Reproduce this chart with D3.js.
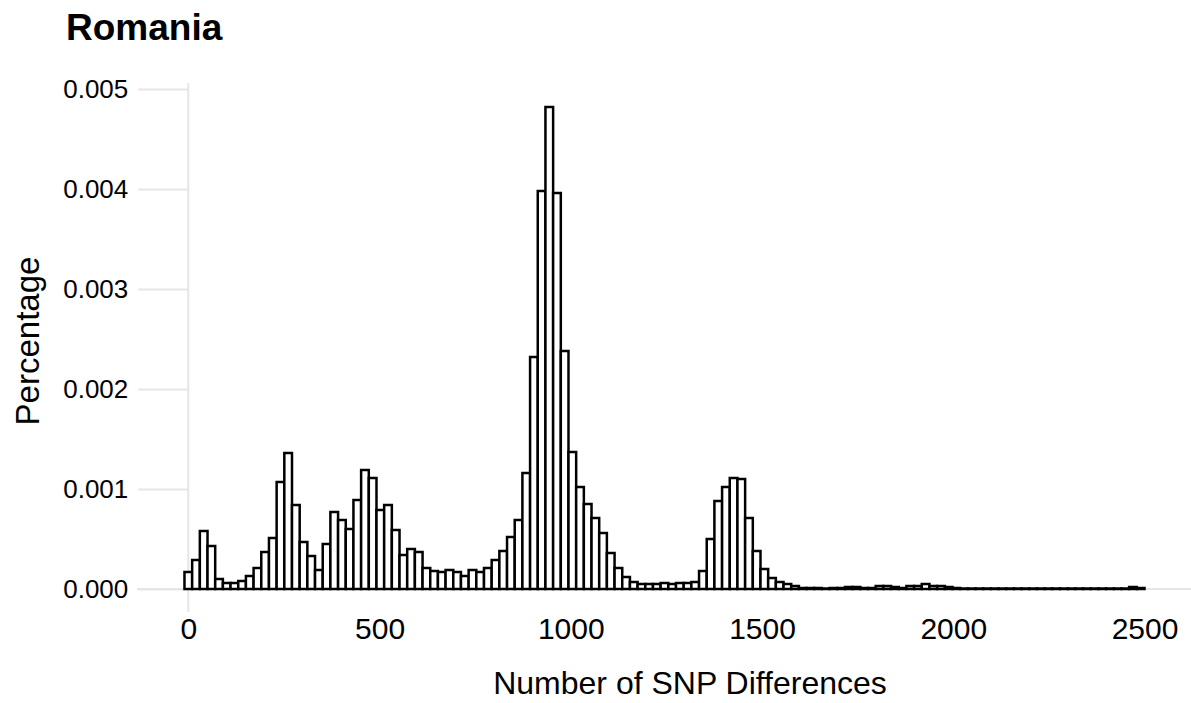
<!DOCTYPE html>
<html>
<head>
<meta charset="utf-8">
<script src="https://d3js.org/d3.v7.min.js"></script>
<style>
  html, body { margin: 0; padding: 0; background: #fff; }
  svg { display: block; font-family: "Liberation Sans", Arial, Helvetica, sans-serif; }
</style>
</head>
<body>
<svg id="chart" width="1191" height="703"></svg>
<script>
// ---- data ----
const title = "Romania";
const xLabel = "Number of SNP Differences";
const yLabel = "Percentage";
const binStart = -10;      // left edge of first bin
const binSize = 20.08;     // width of each bin
const values = [
  0.00017, 0.00029, 0.00058, 0.00043, 0.00010, 0.00006, 0.00006, 0.00008, 0.00013, 0.00021,
  0.00037, 0.00051, 0.00107, 0.00136, 0.00084, 0.00047, 0.00033, 0.00019, 0.00045, 0.00077,
  0.00069, 0.00060, 0.00089, 0.00119, 0.00111, 0.00079, 0.00084, 0.00059, 0.00034, 0.00040,
  0.00037, 0.00021, 0.00018, 0.00017, 0.00019, 0.00017, 0.00013, 0.00019, 0.00017, 0.00021,
  0.00029, 0.00038, 0.00052, 0.00069, 0.00116, 0.00232, 0.00398, 0.00482, 0.00396, 0.00238,
  0.00137, 0.00102, 0.00085, 0.00071, 0.00056, 0.00036, 0.00021, 0.00012, 0.00007, 0.00005,
  0.00005, 0.00005, 0.00006, 0.00005, 0.00006, 0.00006, 0.00007, 0.00018, 0.00050, 0.00088,
  0.00102, 0.00111, 0.00110, 0.00071, 0.00038, 0.00020, 0.00011, 0.00007, 0.00005, 0.00003,
  0.00001, 0.00001, 0.00001, 0.000005, 0.00001, 0.00001, 0.00002, 0.00002, 0.00001, 0.00001,
  0.00003, 0.00003, 0.00002, 0.00001, 0.00003, 0.00003, 0.00005, 0.00003, 0.00003, 0.00002,
  0.00001, 0.000005, 0.000005, 0.000005, 0.000005, 0.000005, 0.000005, 0.000005, 0.000005, 0.000005,
  0.000005, 0.000005, 0.000005, 0.000005, 0.000005, 0.000005, 0.000005, 0.000005, 0.000005, 0.000005,
  0.000005, 0.000005, 0.000005, 0.00002, 0.00001
];
const xTicks = [0, 500, 1000, 1500, 2000, 2500];
const yTicks = [0, 0.001, 0.002, 0.003, 0.004, 0.005];

// ---- layout ----
const svg = d3.select("#chart");
const x = d3.scaleLinear().domain([0, 2500]).range([188.3, 1144.5]);
const y = d3.scaleLinear().domain([0, 0.005]).range([589, 89]);
const grey = "#e6e6e6";

// axis lines
svg.append("line").attr("x1", 137).attr("x2", 1191).attr("y1", y(0)).attr("y2", y(0))
  .attr("stroke", grey).attr("stroke-width", 2);
svg.append("line").attr("x1", x(0)).attr("x2", x(0)).attr("y1", 83).attr("y2", 612)
  .attr("stroke", grey).attr("stroke-width", 2);

// y ticks
const yAxis = svg.append("g").attr("transform", `translate(${x(0)},0)`)
  .call(d3.axisLeft(y).tickValues(yTicks).tickFormat(d3.format(".3f")).tickSize(50).tickPadding(10));
yAxis.select(".domain").remove();
yAxis.selectAll(".tick line").attr("stroke", grey).attr("stroke-width", 2);
yAxis.selectAll(".tick text").attr("font-size", 26).attr("fill", "#000")
  .attr("font-family", "'Liberation Sans', Arial, sans-serif");

// x ticks
const xAxis = svg.append("g").attr("transform", `translate(0,${y(0)})`)
  .call(d3.axisBottom(x).tickValues(xTicks).tickFormat(d3.format("d")).tickSize(0).tickPadding(29));
xAxis.select(".domain").remove();
xAxis.selectAll(".tick text").attr("font-size", 30).attr("fill", "#000")
  .attr("font-family", "'Liberation Sans', Arial, sans-serif");

// bars
svg.append("g").selectAll("rect").data(values).join("rect")
  .attr("x", (d, i) => x(binStart + i * binSize))
  .attr("width", (d, i) => x(binStart + (i + 1) * binSize) - x(binStart + i * binSize))
  .attr("y", d => y(d))
  .attr("height", d => y(0) - y(d))
  .attr("fill", "#fff")
  .attr("stroke", "#000")
  .attr("stroke-width", 2.5);

// titles
svg.append("text").attr("x", 66).attr("y", 39.5).text(title)
  .attr("font-size", 37).attr("font-weight", "bold").attr("fill", "#000");
svg.append("text").attr("x", 690).attr("y", 694).attr("text-anchor", "middle").text(xLabel)
  .attr("font-size", 32).attr("fill", "#000");
svg.append("text").attr("transform", "translate(39,341) rotate(-90)").attr("text-anchor", "middle")
  .text(yLabel).attr("font-size", 33).attr("fill", "#000");
</script>
</body>
</html>
